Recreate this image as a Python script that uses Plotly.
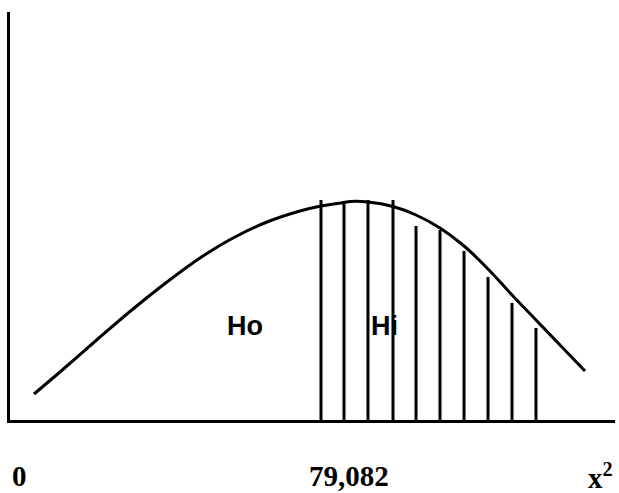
import plotly.graph_objects as go

# Density curve of the test statistic (x in statistic units, y = relative height)
curve_x = [6.10, 12.71, 22.89, 31.28, 39.92, 48.31, 56.71, 65.35, 73.74, 79.08,
           84.93, 86.46, 91.03, 97.39, 103.24, 109.34, 115.45, 121.55, 127.65,
           133.75, 139.86, 146.21]
curve_y = [2.6, 4.8, 8.3, 11.1, 13.8, 16.2, 18.2, 19.8, 20.9, 21.4,
           21.75, 21.85, 21.8, 21.35, 20.5, 19.2, 17.4, 15.1, 12.5,
           10.0, 7.5, 4.9]

# Rejection region hatching (vertical strokes)
hatch_x = [79.08, 84.93, 91.03, 97.39, 103.24, 109.34, 115.45, 121.55, 127.65, 133.75]
hatch_top = [22.0, 21.9, 22.0, 22.0, 19.4, 19.0, 16.9, 14.3, 11.7, 9.2]

critical_value = 79.082
critical_label = "79,082"
region_labels = ["Ho", "Hi"]
region_label_x = [59.7, 95.1]
region_label_y = [9.4, 9.4]

X_MAX = 153.84
Y_MAX = 40.8

hx, hy = [], []
for xv, top in zip(hatch_x, hatch_top):
    hx += [xv, xv, None]
    hy += [0, top, None]

fig = go.Figure()
fig.add_trace(go.Scatter(x=hx, y=hy, mode="lines",
                         line=dict(color="black", width=3), hoverinfo="skip"))
fig.add_trace(go.Scatter(x=curve_x, y=curve_y, mode="lines",
                         line=dict(color="black", width=3, shape="spline", smoothing=1.0),
                         hoverinfo="skip"))

annotations = []
for txt, xv, yv in zip(region_labels, region_label_x, region_label_y):
    annotations.append(dict(x=xv, y=yv, xref="x", yref="y", text="<b>" + txt + "</b>",
                            showarrow=False,
                            font=dict(family="Liberation Sans", size=27, color="black"),
                            xanchor="center", yanchor="middle"))

tick_font = dict(family="Liberation Serif", size=29, color="black")
label_y = -0.137
annotations.append(dict(x=0, y=label_y, xref="x", yref="paper", text="<b>0</b>",
                        showarrow=False, font=tick_font, xanchor="left", yanchor="middle"))
annotations.append(dict(x=critical_value, y=label_y, xref="x", yref="paper",
                        text="<b>" + critical_label + "</b>", showarrow=False,
                        font=tick_font, xanchor="center", yanchor="middle", xshift=28))
annotations.append(dict(x=1.0, y=label_y, xref="paper", yref="paper",
                        text="<b>x<sup>2</sup></b>", showarrow=False,
                        font=tick_font, xanchor="right", yanchor="middle"))

fig.update_layout(
    width=619, height=493,
    margin=dict(l=10, r=4, t=12, b=73),
    paper_bgcolor="white", plot_bgcolor="white",
    showlegend=False,
    annotations=annotations,
    xaxis=dict(range=[0, X_MAX], showgrid=False, zeroline=False, showticklabels=False,
               ticks="", showline=True, linecolor="black", linewidth=3, fixedrange=True),
    yaxis=dict(range=[0, Y_MAX], showgrid=False, zeroline=False, showticklabels=False,
               ticks="", showline=True, linecolor="black", linewidth=3, fixedrange=True),
)

fig.write_html("out.html")
